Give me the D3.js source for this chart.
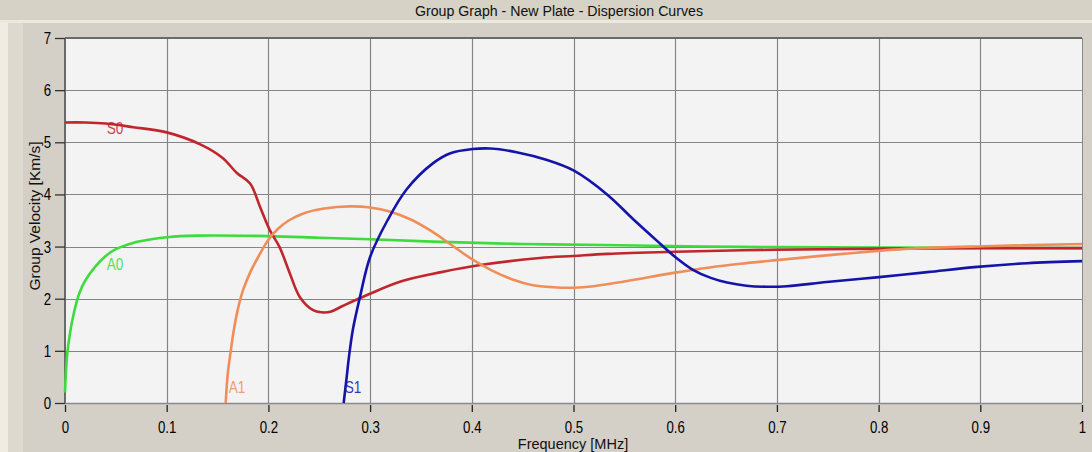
<!DOCTYPE html>
<html>
<head>
<meta charset="utf-8">
<script src="https://cdn.jsdelivr.net/npm/d3@7"></script>
<style>
  html, body { margin: 0; padding: 0; background: #d4d0c8; }
  svg { display: block; font-family: "Liberation Sans", Arial, sans-serif; }
</style>
</head>
<body>
<div id="chart"></div>
<script>
// data
const xTicks = [0, 0.1, 0.2, 0.3, 0.4, 0.5, 0.6, 0.7, 0.8, 0.9, 1];
const xTickLabels = ['0', '0.1', '0.2', '0.3', '0.4', '0.5', '0.6', '0.7', '0.8', '0.9', '1'];
const yTicks = [0, 1, 2, 3, 4, 5, 6, 7];
const yTickLabels = ['0', '1', '2', '3', '4', '5', '6', '7'];

const s0Freq = [0, 0.02, 0.04, 0.067, 0.1, 0.133, 0.155, 0.169, 0.182, 0.192, 0.2015, 0.211, 0.221, 0.231, 0.244, 0.252, 0.261, 0.273, 0.297, 0.33, 0.37, 0.41, 0.467, 0.5, 0.533, 0.6, 0.7, 0.8, 0.9, 1.0];
const s0Vel = [5.38, 5.38, 5.36, 5.29, 5.19, 4.96, 4.7, 4.41, 4.21, 3.75, 3.31, 2.99, 2.49, 2.03, 1.78, 1.74, 1.75, 1.86, 2.07, 2.33, 2.51, 2.65, 2.78, 2.82, 2.86, 2.9, 2.94, 2.96, 2.97, 2.97];

const a0Freq = [0, 0.002, 0.005, 0.009, 0.014, 0.02, 0.03, 0.04, 0.05, 0.067, 0.085, 0.1, 0.13, 0.2, 0.25, 0.3, 0.37, 0.45, 0.53, 0.63, 0.7, 0.8, 1.0];
const a0Vel = [0.2, 0.9, 1.35, 1.75, 2.1, 2.35, 2.62, 2.82, 2.95, 3.07, 3.14, 3.18, 3.21, 3.2, 3.17, 3.14, 3.09, 3.05, 3.03, 3.0, 2.99, 2.98, 2.97];

const a1Freq = [0.158, 0.16, 0.163, 0.166, 0.17, 0.175, 0.182, 0.19, 0.2, 0.21, 0.22, 0.235, 0.255, 0.28, 0.3, 0.32, 0.34, 0.36, 0.38, 0.4, 0.42, 0.44, 0.46, 0.48, 0.5, 0.52, 0.55, 0.6, 0.634, 0.664, 0.7, 0.765, 0.831, 0.912, 1.0];
const a1Vel = [0, 0.55, 1.0, 1.4, 1.8, 2.16, 2.5, 2.8, 3.13, 3.35, 3.5, 3.64, 3.73, 3.77, 3.75, 3.67, 3.52, 3.3, 3.03, 2.76, 2.54, 2.37, 2.26, 2.22, 2.21, 2.24, 2.33, 2.5, 2.6, 2.67, 2.74, 2.86, 2.96, 3.01, 3.05];

const s1Freq = [0.274, 0.277, 0.279, 0.283, 0.29, 0.3, 0.317, 0.336, 0.362, 0.379, 0.401, 0.418, 0.444, 0.474, 0.5, 0.533, 0.559, 0.585, 0.6, 0.617, 0.635, 0.651, 0.67, 0.69, 0.71, 0.749, 0.798, 0.848, 0.897, 0.946, 1.0];
const s1Vel = [0, 0.5, 0.85, 1.4, 2.03, 2.8, 3.5, 4.1, 4.6, 4.79, 4.87, 4.88, 4.81, 4.66, 4.46, 4.0, 3.52, 3.06, 2.8, 2.56, 2.4, 2.31, 2.25, 2.23, 2.24, 2.32, 2.41, 2.51, 2.61, 2.68, 2.72];

const curveNames = ['S0', 'A0', 'A1', 'S1'];
const curveColors = ['#c0262c', '#3cdc3c', '#f08e5a', '#1414a8'];
// where each curve name sits (freq, velocity of the text baseline-left)
const labelFreq = [0.041, 0.041, 0.161, 0.275];
const labelVel = [5.15, 2.55, 0.19, 0.19];

const width = 1092;
const height = 452;
const margin = {top: 38, right: 10, bottom: 49, left: 65};
const plotRight = width - margin.right;
const plotBottom = height - margin.bottom;

const svg = d3.select('#chart')
  .append('svg')
  .attr('width', width)
  .attr('height', height);

// window-ish background
svg.append('rect').attr('width', width).attr('height', height).attr('fill', '#d4d0c8');
svg.append('rect').attr('x', 0).attr('y', 0).attr('width', 23).attr('height', height).attr('fill', '#ddd9cf');
svg.append('rect').attr('x', 0).attr('y', 0).attr('width', 8).attr('height', height).attr('fill', '#efece3');
svg.append('rect').attr('x', 0).attr('y', 0).attr('width', width).attr('height', 20).attr('fill', '#d6d2c6');
svg.append('rect').attr('x', 0).attr('y', 20).attr('width', width).attr('height', 3).attr('fill', '#ece9df');

svg.append('text')
  .attr('x', 559)
  .attr('y', 16)
  .attr('text-anchor', 'middle')
  .attr('font-size', 14)
  .attr('fill', '#111')
  .attr('textLength', 288)
  .attr('lengthAdjust', 'spacingAndGlyphs')
  .text('Group Graph - New Plate - Dispersion Curves');

const x = d3.scaleLinear().domain([0, 1]).range([margin.left, plotRight]);
const y = d3.scaleLinear().domain([0, 7]).range([plotBottom, margin.top]);

// plot area
svg.append('rect')
  .attr('x', margin.left)
  .attr('y', margin.top)
  .attr('width', plotRight - margin.left)
  .attr('height', plotBottom - margin.top)
  .attr('fill', '#f3f3f3');

// grid
const grid = svg.append('g').attr('stroke', '#858585').attr('stroke-width', 1.2);
grid.selectAll('line.v')
  .data(xTicks.slice(1, -1))
  .enter()
  .append('line')
  .attr('x1', d => Math.round(x(d)) + 0.5)
  .attr('x2', d => Math.round(x(d)) + 0.5)
  .attr('y1', margin.top)
  .attr('y2', plotBottom);
grid.selectAll('line.h')
  .data(yTicks.slice(1, -1))
  .enter()
  .append('line')
  .attr('x1', margin.left)
  .attr('x2', plotRight)
  .attr('y1', d => Math.round(y(d)) + 0.5)
  .attr('y2', d => Math.round(y(d)) + 0.5);

// frame
svg.append('line').attr('x1', margin.left).attr('x2', plotRight).attr('y1', margin.top).attr('y2', margin.top)
  .attr('stroke', '#6a6a6a').attr('stroke-width', 2);
svg.append('line').attr('x1', margin.left).attr('x2', margin.left).attr('y1', margin.top).attr('y2', plotBottom)
  .attr('stroke', '#6a6a6a').attr('stroke-width', 2);
svg.append('line').attr('x1', plotRight + 0.5).attr('x2', plotRight + 0.5).attr('y1', margin.top).attr('y2', plotBottom)
  .attr('stroke', '#8a8a8a').attr('stroke-width', 1);
svg.append('line').attr('x1', margin.left).attr('x2', plotRight).attr('y1', plotBottom + 0.5).attr('y2', plotBottom + 0.5)
  .attr('stroke', '#8a8a8a').attr('stroke-width', 1.5);

// curves
const series = [
  {freq: s0Freq, vel: s0Vel},
  {freq: a0Freq, vel: a0Vel},
  {freq: a1Freq, vel: a1Vel},
  {freq: s1Freq, vel: s1Vel}
];

const line = d3.line()
  .curve(d3.curveCatmullRom.alpha(0.5))
  .x(d => x(d[0]))
  .y(d => y(d[1]));

const curves = svg.append('g').attr('fill', 'none');
// green goes under the others, as in the reference
[1, 0, 2, 3].forEach(i => {
  const pts = series[i].freq.map((f, k) => [f, series[i].vel[k]]);
  curves.append('path')
    .datum(pts)
    .attr('d', line)
    .attr('stroke', curveColors[i])
    .attr('stroke-width', 2.6)
    .attr('stroke-linejoin', 'round');
});

// curve names
svg.append('g')
  .selectAll('text')
  .data(curveNames)
  .enter()
  .append('text')
  .attr('transform', (d, i) => 'translate(' + x(labelFreq[i]) + ',' + y(labelVel[i]) + ') scale(0.85,1)')
  .attr('font-size', 16)
  .attr('fill', (d, i) => curveColors[i])
  .attr('opacity', 0.85)
  .text(d => d);

// x axis
const xAxis = svg.append('g')
  .attr('transform', 'translate(0,' + (plotBottom + 2) + ')')
  .call(d3.axisBottom(x)
    .tickValues(xTicks)
    .tickSize(7)
    .tickPadding(9)
    .tickFormat((d, i) => xTickLabels[i]));
xAxis.select('.domain').remove();
xAxis.selectAll('.tick line').attr('stroke', '#222').attr('stroke-width', 1.3);
xAxis.selectAll('.tick text')
  .attr('font-size', 17)
  .attr('font-family', '"Liberation Sans", Arial, sans-serif')
  .attr('fill', '#000')
  .attr('transform', 'scale(0.78,1)');

// y axis
const yAxis = svg.append('g')
  .attr('transform', 'translate(' + margin.left + ',0)')
  .call(d3.axisLeft(y)
    .tickValues(yTicks)
    .tickSize(10)
    .tickPadding(4)
    .tickFormat((d, i) => yTickLabels[i]));
yAxis.select('.domain').remove();
yAxis.selectAll('.tick line').attr('stroke', '#333').attr('stroke-width', 1.3);
yAxis.selectAll('.tick text')
  .attr('font-size', 17)
  .attr('font-family', '"Liberation Sans", Arial, sans-serif')
  .attr('fill', '#000')
  .attr('transform', 'translate(-14,0) scale(0.78,1) translate(14,0)');

// axis titles
svg.append('text')
  .attr('x', 573)
  .attr('y', 449)
  .attr('text-anchor', 'middle')
  .attr('font-size', 14.5)
  .attr('fill', '#111')
  .text('Frequency [MHz]');

svg.append('text')
  .attr('transform', 'translate(40,216) rotate(-90)')
  .attr('text-anchor', 'middle')
  .attr('font-size', 15.5)
  .attr('fill', '#111')
  .text('Group Velocity [Km/s]');
</script>
</body>
</html>
